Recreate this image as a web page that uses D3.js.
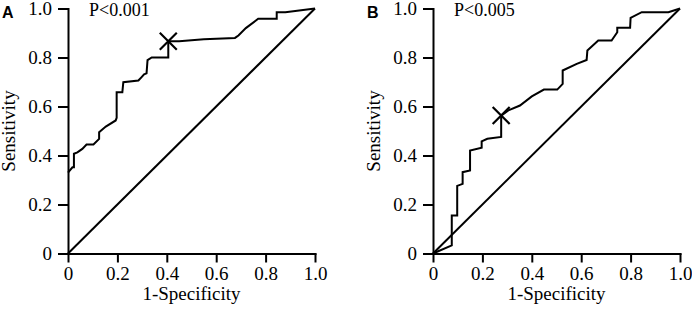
<!DOCTYPE html>
<html lang="en">
<head>
    <meta charset="UTF-8">
    <title>ROC curves</title>
    <script src="https://d3js.org/d3.v7.min.js"></script>
    <style>
        body {
            margin: 0;
            background: #fff;
        }
        svg {
            display: block;
        }
        .tick text {
            font-family: "Liberation Serif", "Times New Roman", serif;
            font-size: 19px;
            fill: #000;
        }
    </style>
</head>
<body>
<svg width="692" height="314"></svg>
<script>
    // ROC curve A (1-specificity, sensitivity)
    const fprA = [0, 0.018, 0.024, 0.024, 0.038, 0.058, 0.075, 0.103, 0.126, 0.126, 0.153, 0.193, 0.197, 0.197,
        0.22, 0.224, 0.285, 0.298, 0.308, 0.318, 0.322, 0.339, 0.406, 0.406, 0.45, 0.55, 0.676, 0.69, 0.72,
        0.77, 0.845, 0.845, 0.88, 1];
    const tprA = [0.33, 0.352, 0.352, 0.407, 0.413, 0.427, 0.445, 0.445, 0.468, 0.495, 0.518, 0.543, 0.554, 0.658,
        0.658, 0.699, 0.706, 0.72, 0.731, 0.735, 0.789, 0.80, 0.80, 0.866, 0.866, 0.874, 0.88, 0.89, 0.92,
        0.958, 0.958, 0.985, 0.985, 1];
    const cutA = [0.406, 0.866];

    // ROC curve B
    const fprB = [0, 0.076, 0.076, 0.098, 0.098, 0.12, 0.12, 0.15, 0.15, 0.197, 0.197, 0.22, 0.276, 0.276,
        0.305, 0.352, 0.40, 0.449, 0.503, 0.525, 0.525, 0.582, 0.622, 0.625, 0.669, 0.723, 0.746, 0.746,
        0.798, 0.80, 0.845, 0.953, 1];
    const tprB = [0, 0.033, 0.155, 0.155, 0.276, 0.284, 0.332, 0.339, 0.42, 0.432, 0.458, 0.468, 0.476, 0.563,
        0.584, 0.604, 0.641, 0.669, 0.669, 0.692, 0.747, 0.774, 0.79, 0.829, 0.869, 0.869, 0.903, 0.921,
        0.921, 0.962, 0.985, 0.985, 1];
    const cutB = [0.276, 0.563];

    const tickVals = [0, 0.2, 0.4, 0.6, 0.8, 1.0];
    const tickLabels = ["0", "0.2", "0.4", "0.6", "0.8", "1.0"];

    const panels = [
        {letter: "A", pText: "P<0.001", fpr: fprA, tpr: tprA, cut: cutA, left: 68},
        {letter: "B", pText: "P<0.005", fpr: fprB, tpr: tprB, cut: cutB, left: 433}
    ];

    const svg = d3.select("svg");
    const plotW = 247, plotTop = 8.5, plotBottom = 253.5;

    panels.forEach(p => {
        const x = d3.scaleLinear().domain([0, 1]).range([p.left, p.left + plotW]);
        const y = d3.scaleLinear().domain([0, 1]).range([plotBottom, plotTop]);
        const g = svg.append("g");

        const fmt = (d, i) => tickLabels[i];

        g.append("g")
            .attr("transform", `translate(0,${plotBottom})`)
            .call(d3.axisBottom(x).tickValues(tickVals).tickFormat(fmt).tickSize(9).tickSizeOuter(0).tickPadding(4))
            .call(a => a.selectAll("line, path").attr("stroke", "#000").attr("stroke-width", 2));

        g.append("g")
            .attr("transform", `translate(${p.left},0)`)
            .call(d3.axisLeft(y).tickValues(tickVals).tickFormat(fmt).tickSize(10).tickSizeOuter(0).tickPadding(6))
            .call(a => a.selectAll("line, path").attr("stroke", "#000").attr("stroke-width", 2));

        g.selectAll(".domain").attr("stroke-linecap", "square");

        // reference diagonal
        g.append("line")
            .attr("x1", x(0)).attr("y1", y(0))
            .attr("x2", x(1)).attr("y2", y(1))
            .attr("stroke", "#000").attr("stroke-width", 2);

        const pts = p.fpr.map((f, i) => [f, p.tpr[i]]);
        g.append("path")
            .datum(pts)
            .attr("fill", "none")
            .attr("stroke", "#000")
            .attr("stroke-width", 2)
            .attr("stroke-linejoin", "miter")
            .attr("d", d3.line().x(d => x(d[0])).y(d => y(d[1])));

        // cut-off marker
        const cx = x(p.cut[0]), cy = y(p.cut[1]), s = 8.5;
        g.append("path")
            .attr("d", `M${cx - s},${cy - s}L${cx + s},${cy + s}M${cx - s},${cy + s}L${cx + s},${cy - s}`)
            .attr("stroke", "#000").attr("stroke-width", 2.2);

        g.append("text")
            .attr("x", p.left + 21).attr("y", 16)
            .attr("font-family", "Liberation Serif, serif").attr("font-size", 18)
            .text(p.pText);

        g.append("text")
            .attr("x", p.left - 66).attr("y", 18)
            .attr("font-family", "Liberation Sans, Arial, sans-serif").attr("font-size", 16)
            .attr("font-weight", "bold")
            .text(p.letter);

        g.append("text")
            .attr("x", p.left + plotW / 2).attr("y", 300)
            .attr("text-anchor", "middle")
            .attr("font-family", "Liberation Serif, serif").attr("font-size", 19)
            .text("1-Specificity");

        g.append("text")
            .attr("transform", `translate(${p.left - 53},${(plotTop + plotBottom) / 2}) rotate(-90)`)
            .attr("text-anchor", "middle")
            .attr("font-family", "Liberation Serif, serif").attr("font-size", 19)
            .text("Sensitivity");
    });
</script>
</body>
</html>
